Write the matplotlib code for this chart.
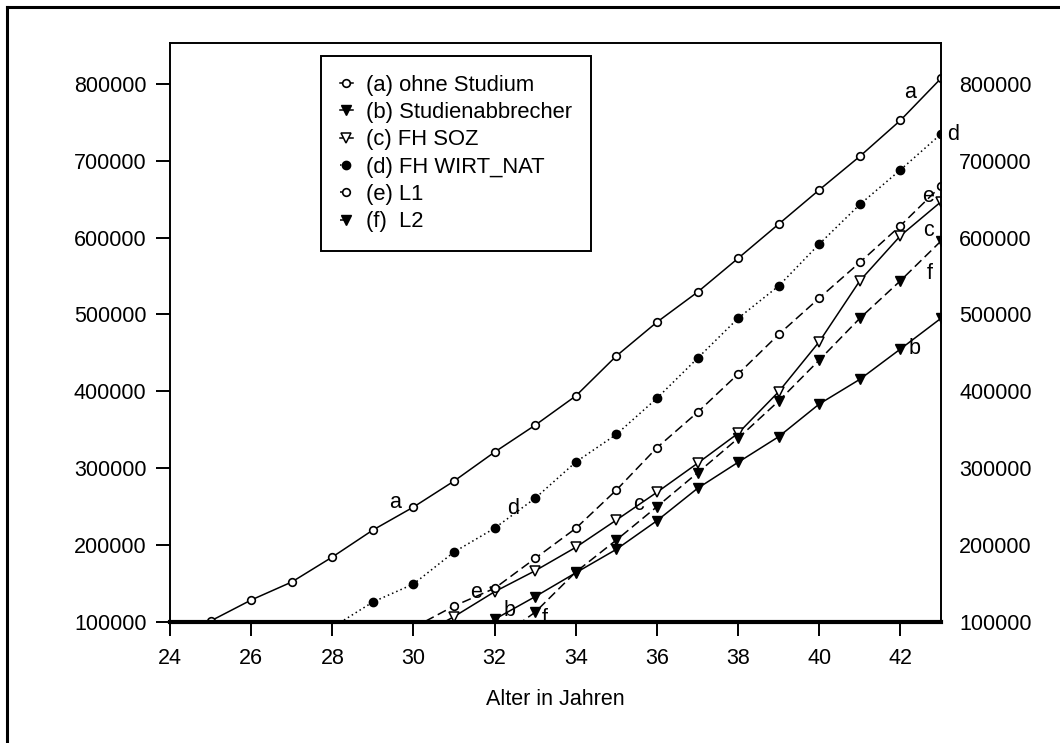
import numpy as np
import matplotlib
matplotlib.use("Agg")
import matplotlib.pyplot as plt
from matplotlib.lines import Line2D

plt.rcParams['font.family'] = ['Liberation Sans', 'DejaVu Sans']

ages = list(range(24, 44))
nan = np.nan

# (a) ohne Studium
a_vals = [nan, 101300, 128600, 152000, 184500, 219600, 249500, 283300, 321000, 356000,
          394000, 446000, 490000, 529000, 573000, 617500, 662000, 705600, 752400, 807000]
# (b) Studienabbrecher
b_vals = [nan, nan, nan, nan, nan, nan, nan, 73000, 103500, 133000,
          164000, 194500, 231700, 273800, 307700, 341000, 383500, 415600, 455000, 495000]
# (c) FH SOZ
c_vals = [nan, nan, nan, nan, nan, nan, 78000, 107000, 139400, 166700,
          197100, 232600, 268700, 306400, 345400, 399500, 464500, 543800, 602300, 646500]
# (d) FH WIRT_NAT
d_vals = [nan, nan, nan, nan, 93000, 126000, 149400, 191000, 222000, 261000,
          308000, 344000, 391000, 443000, 495000, 537000, 591600, 643000, 688000, 734600]
# (e) L1
e_vals = [nan, nan, nan, nan, nan, nan, 92700, 120800, 143800, 182800,
          221800, 271600, 326700, 372700, 422500, 474000, 521300, 567700, 615400, 667000]
# (f) L2
f_vals = [nan, nan, nan, nan, nan, nan, nan, nan, 75000, 112800,
          165000, 206600, 250000, 294000, 338900, 387400, 440700, 495000, 543800, 595500]

labels = ["(a) ohne Studium", "(b) Studienabbrecher", "(c) FH SOZ",
          "(d) FH WIRT_NAT", "(e) L1", "(f)  L2"]
y_ticks = [100000, 200000, 300000, 400000, 500000, 600000, 700000, 800000]
x_ticks = list(range(24, 43, 2))

W, H = 1060, 743
fig = plt.figure(figsize=(W / 100, H / 100), dpi=100)
ax = fig.add_axes([170 / W, 1 - 622 / H, (941 - 170) / W, (622 - 43) / H])

FS = 15.5
lw = 1.1
styles = [
    dict(ls='-', marker='o', mfc='white', mec='black', ms=5.5, mew=1.2),
    dict(ls='-', marker='v', mfc='black', mec='black', ms=7.5, mew=1.0),
    dict(ls='-', marker='v', mfc='white', mec='black', ms=7.5, mew=1.1),
    dict(ls=(0, (1, 2)), marker='o', mfc='black', mec='black', ms=6, mew=1.0),
    dict(ls=(0, (6, 3)), marker='o', mfc='white', mec='black', ms=5.5, mew=1.2),
    dict(ls=(0, (6, 3)), marker='v', mfc='black', mec='black', ms=7.5, mew=1.0),
]
series = [a_vals, b_vals, c_vals, d_vals, e_vals, f_vals]
handles = []
for vals, st, lab in zip(series, styles, labels):
    h, = ax.plot(ages, vals, color='black', lw=lw, label=lab, **st)
    handles.append(h)

ax.set_xlim(24, 43)
ax.set_ylim(100000, 853000)
ax.set_xticks(x_ticks)
ax.set_xticklabels([str(t) for t in x_ticks])
ax.set_yticks(y_ticks)
ax.set_yticklabels([str(t) for t in y_ticks])
ax.tick_params(axis='both', direction='out', length=10, width=1.4, labelsize=FS,
               color='black')
ax.tick_params(axis='y', pad=7)
ax.tick_params(axis='x', pad=9)
ax.set_xlabel("Alter in Jahren", fontsize=FS, labelpad=14)
for s in ['left', 'top', 'right']:
    ax.spines[s].set_linewidth(1.4)
ax.spines['bottom'].set_linewidth(3.0)

ax2 = ax.twinx()
ax2.set_ylim(ax.get_ylim())
ax2.set_yticks(y_ticks)
ax2.set_yticklabels([str(t) for t in y_ticks])
ax2.tick_params(axis='y', length=0, pad=13, labelsize=FS)
for s in ax2.spines.values():
    s.set_visible(False)

# curve labels (positions in figure pixels)
curve_labels = [("a", 395, 503), ("d", 513, 509), ("e", 476, 592), ("b", 510, 610),
                ("f", 545, 619), ("c", 638, 505),
                ("a", 910, 92), ("d", 953, 134), ("e", 928, 197), ("c", 928, 231),
                ("f", 930, 273), ("b", 915, 349)]
for t, xp, yp in curve_labels:
    fig.text(xp / W, 1 - yp / H, t, fontsize=FS, ha='center', va='center')

leg = fig.legend(handles=handles, labels=labels, loc='upper left',
                 bbox_to_anchor=(321 / W, 1 - 56 / H), borderaxespad=0,
                 fontsize=15.8, handlelength=0.6, handletextpad=0.6,
                 labelspacing=0.29, borderpad=0.85, fancybox=False,
                 framealpha=1, edgecolor='black')
leg.get_frame().set_linewidth(1.4)

# outer frame (left and top edges)
fig.add_artist(Line2D([7 / W, 7 / W], [0, 1 - 7 / H], transform=fig.transFigure,
                      color='black', lw=2.2))
fig.add_artist(Line2D([7 / W, 1], [1 - 7 / H, 1 - 7 / H], transform=fig.transFigure,
                      color='black', lw=2.2))

fig.savefig("out.png", dpi=100)
